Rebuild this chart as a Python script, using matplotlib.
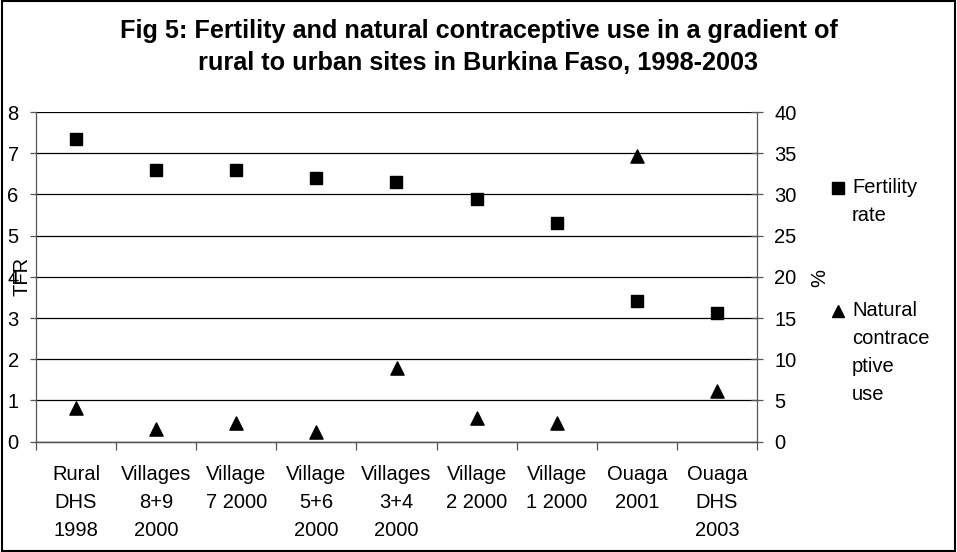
import numpy as np
import matplotlib.pyplot as plt
from matplotlib.lines import Line2D
from matplotlib.patches import Rectangle

plt.rcParams['font.family'] = ['Liberation Sans', 'DejaVu Sans']

# Locais, do rural ao urbano
locais = ["Rural\nDHS\n1998", "Villages\n8+9\n2000", "Village\n7 2000", "Village\n5+6\n2000",
          "Villages\n3+4\n2000", "Village\n2 2000", "Village\n1 2000", "Ouaga\n2001", "Ouaga\nDHS\n2003"]
# Taxa de fecundidade (TFR, eixo esquerdo)
fecundidade = [7.35, 6.6, 6.6, 6.4, 6.3, 5.9, 5.3, 3.42, 3.12]
# Uso de contracepção natural (%, eixo direito)
contracepcao = [4.1, 1.6, 2.3, 1.2, 9.0, 2.9, 2.3, 34.7, 6.2]

fs = 14.5
cinza = "#555555"

fig = plt.figure(figsize=(9.57, 5.52), dpi=100)
ax = fig.add_axes([36 / 957, 110.3 / 552, 721 / 957, 329.7 / 552])
ax2 = ax.twinx()

x = np.arange(len(locais)) + 0.5
ax.scatter(x, fecundidade, marker="s", s=75, color="black", zorder=3)
ax2.scatter(x, contracepcao, marker="^", s=90, color="black", zorder=3)

ax.set_xlim(0, len(locais))
ax.set_ylim(0, 8)
ax2.set_ylim(0, 40)
ax.set_yticks(range(0, 9))
ax2.set_yticks(range(0, 41, 5))
ax.yaxis.grid(True, color="black", linewidth=0.9)
ax.set_axisbelow(True)

# Marcas do eixo x nas divisões entre categorias
ax.set_xticks(np.arange(0, len(locais) + 1))
ax.set_xticklabels([])
ax.set_xticks(x, minor=True)
ax.set_xticklabels(locais, minor=True, fontsize=fs, linespacing=1.6, va="top")
ax.tick_params(axis="x", which="minor", length=0, pad=17)
ax.tick_params(axis="x", which="major", length=6, width=0.9, color=cinza)
ax.tick_params(axis="y", labelsize=fs, length=4.5, width=0.9, color=cinza, pad=8)
ax2.tick_params(axis="y", labelsize=fs, length=9, width=0.9, color=cinza, pad=8,
                direction="inout")

for a in (ax, ax2):
    a.spines["top"].set_visible(False)
    for s in ("left", "right", "bottom"):
        a.spines[s].set_color(cinza)
        a.spines[s].set_linewidth(0.9)
ax2.spines["left"].set_visible(False)
ax.spines["right"].set_visible(False)

ax.set_ylabel("TFR", fontsize=fs)
ax.yaxis.set_label_coords(-0.006, 0.5)
ax2.set_ylabel("%", fontsize=fs)
ax2.yaxis.set_label_coords(1.074, 0.497)

fig.text(0.5, 0.915, "Fig 5: Fertility and natural contraceptive use in a gradient of\n"
         "rural to urban sites in Burkina Faso, 1998-2003",
         ha="center", va="center", fontsize=18.2, fontweight="bold", linespacing=1.45)

# Legenda montada à mão: marcador alinhado com a primeira linha do texto
legenda = [("s", "Fertility\nrate", 188), ("^", "Natural\ncontrace\nptive\nuse", 311)]
for marcador, texto, ypix in legenda:
    yf = 1 - ypix / 552
    fig.add_artist(Line2D([838 / 957], [yf], marker=marcador, markersize=8.5,
                          color="black", linestyle="none", transform=fig.transFigure))
    fig.text(852 / 957, yf + 10 / 552, texto, ha="left", va="top", fontsize=fs,
             linespacing=1.6)

fig.patches.append(Rectangle((0.002, 0.002), 0.996, 0.996, transform=fig.transFigure,
                             fill=False, edgecolor="black", linewidth=1.5))

fig.savefig("out.png", dpi=100, facecolor="white")
